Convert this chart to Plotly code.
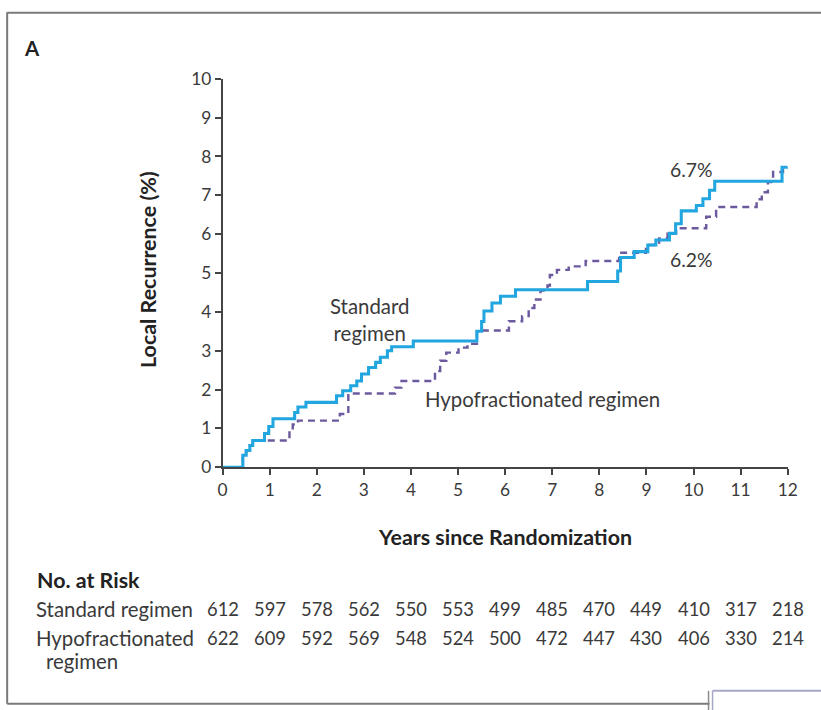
import plotly.graph_objects as go

# Kaplan-Meier style cumulative incidence steps (years, percent)
standard_years = [0, 0.43, 0.50, 0.58, 0.64, 0.89, 0.98, 1.07, 1.53, 1.60, 1.77,
                  2.42, 2.55, 2.72, 2.85, 2.95, 3.10, 3.25, 3.35, 3.50, 3.59, 4.05,
                  5.40, 5.50, 5.55, 5.72, 5.90, 6.22, 7.75, 8.39, 8.45, 8.74, 9.03,
                  9.20, 9.49, 9.62, 9.74, 10.06, 10.20, 10.34, 10.45, 11.88, 12.0]
standard_pct = [0, 0.31, 0.43, 0.56, 0.69, 0.87, 1.05, 1.25, 1.41, 1.55, 1.67,
                1.84, 1.97, 2.10, 2.22, 2.40, 2.57, 2.70, 2.83, 3.00, 3.10, 3.25,
                3.50, 3.75, 4.02, 4.23, 4.40, 4.57, 4.78, 5.05, 5.40, 5.55, 5.72,
                5.85, 6.02, 6.27, 6.60, 6.74, 6.91, 7.13, 7.36, 7.72, 7.72]

hypo_years = [0, 0.43, 0.50, 0.58, 0.64, 1.42, 1.49, 1.60, 2.49, 2.67, 3.66,
              3.80, 4.51, 4.62, 4.75, 5.01, 5.20, 5.40, 6.08, 6.36, 6.50, 6.62,
              6.75, 6.90, 6.95, 7.10, 7.35, 7.71, 8.42, 8.99, 9.27, 9.45, 9.63,
              10.27, 10.48, 11.34, 11.45, 11.58, 11.69, 11.90, 12.0]
hypo_pct = [0, 0.31, 0.43, 0.56, 0.69, 0.95, 1.10, 1.20, 1.37, 1.90, 2.05,
            2.22, 2.48, 2.74, 2.95, 3.08, 3.18, 3.52, 3.76, 3.89, 4.10, 4.32,
            4.55, 4.68, 4.95, 5.08, 5.17, 5.31, 5.52, 5.72, 5.89, 6.02, 6.15,
            6.45, 6.70, 6.90, 7.08, 7.34, 7.60, 7.70, 7.72]

x_ticks = list(range(0, 13))
y_ticks = list(range(0, 11))

risk_standard = [612, 597, 578, 562, 550, 553, 499, 485, 470, 449, 410, 317, 218]
risk_hypo = [622, 609, 592, 569, 548, 524, 500, 472, 447, 430, 406, 330, 214]

# Positions below are given in screen pixels of the final view; the page keeps
# its default body margin and the view is slightly reduced, so screen pixels
# are converted back to figure pixels here.
PAGE_MARGIN = 8
SX, SY = 0.98, 0.977
W, H = 830, 719
FONT = "Lato, 'Open Sans', sans-serif"
TXT = "#3a3a3a"
BLUE = "#22a6e0"
PURPLE = "#6d5a9e"
K = 1.02  # size factor for fonts and strokes


def px(x):
    """Screen x pixel -> paper fraction."""
    return (x / SX - PAGE_MARGIN) / W


def py(y):
    """Screen y pixel (from top) -> paper fraction."""
    return 1 - (y / SY - PAGE_MARGIN) / H


fig = go.Figure()
fig.add_trace(go.Scatter(x=hypo_years, y=hypo_pct, mode="lines",
                         line=dict(color=PURPLE, width=2.4 * K, dash="7px,5px", shape="hv"),
                         hoverinfo="skip", showlegend=False))
fig.add_trace(go.Scatter(x=standard_years, y=standard_pct, mode="lines",
                         line=dict(color=BLUE, width=3 * K, shape="hv"),
                         hoverinfo="skip", showlegend=False))

axis_common = dict(showgrid=False, zeroline=False, showline=True, linecolor="#444",
                   linewidth=1.5, ticks="outside", ticklen=6, tickwidth=1.5,
                   tickcolor="#444", tickfont=dict(family=FONT, size=17 * K, color=TXT))

fig.update_layout(
    width=W, height=H, margin=dict(l=0, r=0, t=0, b=0),
    paper_bgcolor="white", plot_bgcolor="white",
    xaxis=dict(domain=[px(225), px(789)], range=[0, 12], tickvals=x_ticks,
               **axis_common),
    yaxis=dict(domain=[py(467), py(76)], range=[0, 10], tickvals=y_ticks,
               **axis_common),
)

LBL = dict(family=FONT, size=20 * K, color=TXT)
NUM = dict(family=FONT, size=18 * K, color=TXT)
BOLD = dict(family=FONT, size=21 * K, color="#222")
PCT = dict(family=FONT, size=19 * K, color=TXT)


def paper_text(text, x, y, font, xanchor="center", **kw):
    return dict(text=text, x=px(x), y=py(y), xref="paper", yref="paper",
                xanchor=xanchor, yanchor="middle", showarrow=False, font=font, **kw)


def data_text(text, x, y, font, xanchor="center", **kw):
    return dict(text=text, x=x, y=y, xref="x", yref="y", xanchor=xanchor,
                yanchor="middle", showarrow=False, font=font, **kw)


ann = [
    paper_text("<b>A</b>", 35, 45, dict(family=FONT, size=20 * K, color="#222")),
    paper_text("<b>Local Recurrence (%)</b>", 150, 268, BOLD, textangle=-90),
    paper_text("<b>Years since Randomization</b>", 507, 537, BOLD),
    data_text("Standard<br>regimen", 3.13, 3.8, LBL, align="center"),
    data_text("Hypofractionated regimen", 4.26, 1.76, LBL, xanchor="left"),
    data_text("6.7%", 9.96, 7.67, PCT),
    data_text("6.2%", 9.96, 5.35, PCT),
    paper_text("<b>No. at Risk</b>", 38, 580, BOLD, xanchor="left"),
    paper_text("Standard regimen", 37, 610, LBL, xanchor="left"),
    paper_text("Hypofractionated", 37, 639, LBL, xanchor="left"),
    paper_text("regimen", 47, 662, LBL, xanchor="left"),
]
for yr, n in zip(x_ticks, risk_standard):
    ann.append(dict(text=str(n), x=yr, y=py(610), xref="x", yref="paper",
                    xanchor="center", yanchor="middle", showarrow=False, font=NUM))
for yr, n in zip(x_ticks, risk_hypo):
    ann.append(dict(text=str(n), x=yr, y=py(639), xref="x", yref="paper",
                    xanchor="center", yanchor="middle", showarrow=False, font=NUM))
fig.update_layout(annotations=ann)

# panel frame and the corner of the neighbouring panel
frame = dict(color="#7a7a7a", width=2)


def hline(x0, x1, y, line):
    return dict(type="line", xref="paper", yref="paper", x0=px(x0), x1=px(x1),
                y0=py(y), y1=py(y), line=line)


def vline(x, y0, y1, line):
    return dict(type="line", xref="paper", yref="paper", x0=px(x), x1=px(x),
                y0=py(y0), y1=py(y1), line=line)


shapes = [
    hline(10, 830, 9.5, frame),
    vline(10, 9, 705, frame),
    hline(10, 711, 705, frame),
    vline(710, 692, 715, dict(color="#8a8a8a", width=1.5)),
    vline(714, 692, 715, dict(color="#a6a8c8", width=1.5)),
    hline(714, 830, 692, dict(color="#a6a8c8", width=2)),
]
fig.update_layout(shapes=shapes)

fig.write_html("out.html")
